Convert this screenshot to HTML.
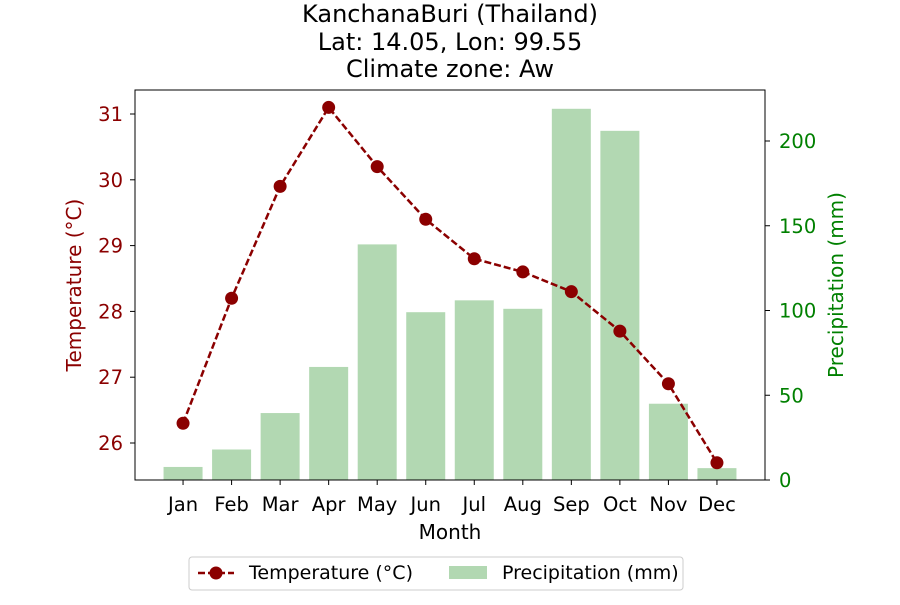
<!DOCTYPE html>
<html><head><meta charset="utf-8"><style>
body{margin:0;background:#fff;font-family:"Liberation Sans","DejaVu Sans",sans-serif}
svg text{font-family:"DejaVu Sans","Liberation Sans",sans-serif}
</style></head><body>
<svg id="chart" width="900" height="600" xmlns="http://www.w3.org/2000/svg">
<text x="450" y="22" font-size="24" text-anchor="middle">KanchanaBuri (Thailand)</text>
<text x="450" y="50" font-size="24" text-anchor="middle">Lat: 14.05, Lon: 99.55</text>
<text x="450" y="77" font-size="24" text-anchor="middle">Climate zone: Aw</text>
<g id="bars"></g><g id="line"></g><g id="axes"></g>
<rect x="135" y="90" width="630" height="390" fill="none" stroke="#000" stroke-width="1"/>
<text x="450" y="539" font-size="20" text-anchor="middle">Month</text>
<text transform="translate(81,285) rotate(-90)" font-size="20" text-anchor="middle" fill="#8b0000">Temperature (°C)</text>
<text transform="translate(843,285) rotate(-90)" font-size="20" text-anchor="middle" fill="#008000">Precipitation (mm)</text>
<g>
<rect x="189" y="557" width="494" height="33" rx="3" fill="#fff" stroke="#ccc"/>
<g>
<line x1="198" y1="573" x2="234" y2="573" stroke="#8b0000" stroke-width="2.5" stroke-dasharray="7,3"/>
<circle cx="216" cy="573" r="6.5" fill="#8b0000"/>
<text x="249" y="579" font-size="19">Temperature (°C)</text></g>
<g>
<rect x="449" y="566" width="38" height="13" fill="#b2d8b2"/>
<text x="502" y="579" font-size="19">Precipitation (mm)</text></g>
</g>
</svg>
<script>
const months=["Jan","Feb","Mar","Apr","May","Jun","Jul","Aug","Sep","Oct","Nov","Dec"];
const temperature=[26.3,28.2,29.9,31.1,30.2,29.4,28.8,28.6,28.3,27.7,26.9,25.7];
const precipitation=[7.7,18,39.5,66.7,139,99,106,101,219,206,45,7];
const tempTicks=[26,27,28,29,30,31];
const precipTicks=[0,50,100,150,200];
const NS="http://www.w3.org/2000/svg";
const x=i=>135+(i+0.99)*(630/12.98);
const yT=v=>443-(v-26)*65.8;
const yP=v=>480-v*1.695;
function mk(t,a,p){const e=document.createElementNS(NS,t);for(const k in a)e.setAttribute(k,a[k]);p.appendChild(e);return e;}
const bars=document.getElementById('bars'),line=document.getElementById('line'),axes=document.getElementById('axes');
precipitation.forEach((v,i)=>{const r=mk('rect',{x:x(i)-19.5,y:yP(v),width:39,height:480-yP(v),fill:'#b2d8b2'},bars);

});
mk('polyline',{points:temperature.map((v,i)=>x(i)+','+yT(v)).join(' '),fill:'none',stroke:'#8b0000','stroke-width':2.5,'stroke-dasharray':'7,3'},line);
temperature.forEach((v,i)=>{const c=mk('circle',{cx:x(i),cy:yT(v),r:6.5,fill:'#8b0000'},line);

});
months.forEach((m,i)=>{mk('line',{x1:x(i),x2:x(i),y1:480,y2:485,stroke:'#000'},axes);
const t=mk('text',{x:x(i),y:511,'font-size':19.5,'text-anchor':'middle'},axes);t.textContent=m;

});
tempTicks.forEach(v=>{mk('line',{x1:130,x2:135,y1:yT(v),y2:yT(v),stroke:'#000'},axes);
const t=mk('text',{x:123,y:yT(v)+7,'font-size':19.5,'text-anchor':'end',fill:'#8b0000'},axes);t.textContent=v;

});
precipTicks.forEach(v=>{mk('line',{x1:765,x2:770,y1:yP(v),y2:yP(v),stroke:'#000'},axes);
const t=mk('text',{x:779,y:yP(v)+7,'font-size':19.5,fill:'#008000'},axes);t.textContent=v;

});
</script>
</body></html>
